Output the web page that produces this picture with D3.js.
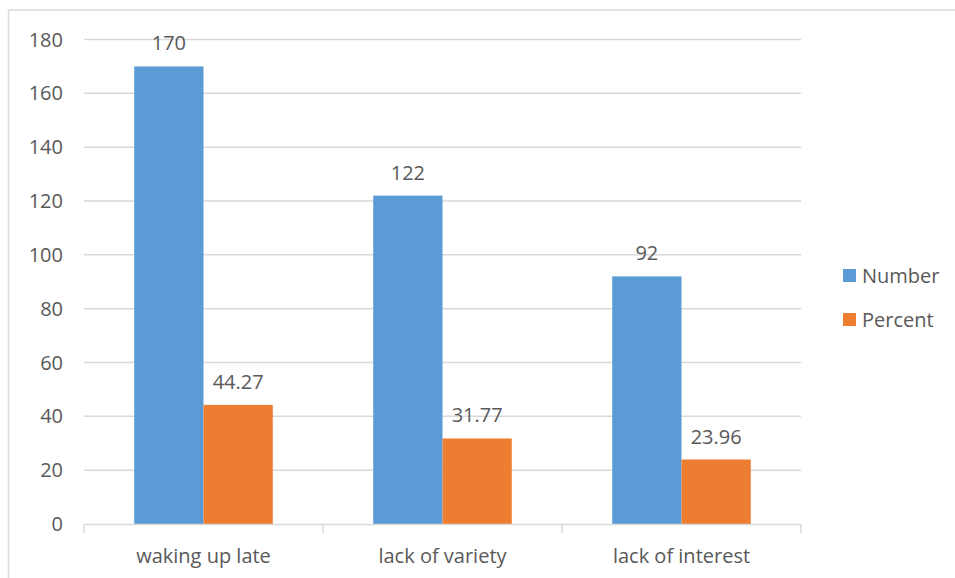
<!DOCTYPE html>
<html>
<head>
<meta charset="utf-8">
<script src="https://cdn.jsdelivr.net/npm/d3@7"></script>
<style>
  html, body { margin: 0; padding: 0; background: #fff; }
  svg { display: block; }
  text { font-family: "Open Sans", sans-serif; fill: #595959; }
</style>
</head>
<body>
<svg id="chart" width="955" height="578"></svg>
<script>
const categories = ["waking up late", "lack of variety", "lack of interest"];
const seriesNames = ["Number", "Percent"];
const numberValues = [170, 122, 92];
const percentValues = [44.27, 31.77, 23.96];
const yTicks = [0, 20, 40, 60, 80, 100, 120, 140, 160, 180];
const colors = ["#5B9BD5", "#ED7D31"];

const seriesValues = [numberValues, percentValues];
const rows = categories.map((c, i) => ({
  category: c,
  values: seriesNames.map((s, j) => ({ series: s, value: seriesValues[j][i], color: colors[j] }))
}));

const svg = d3.select("#chart");
const W = 955, H = 578;
const plot = { left: 84, right: 801, top: 39.5, bottom: 524 };

// outer frame (top and left edges visible)
svg.append("line").attr("x1", 8.5).attr("x2", W).attr("y1", 10).attr("y2", 10)
  .attr("stroke", "#d9d9d9").attr("stroke-width", 1.5);
svg.append("line").attr("x1", 8.5).attr("x2", 8.5).attr("y1", 10).attr("y2", H)
  .attr("stroke", "#d9d9d9").attr("stroke-width", 1.5);

const y = d3.scaleLinear().domain([0, 180]).range([plot.bottom, plot.top]);
const x0 = d3.scaleBand().domain(categories).range([plot.left, plot.right]).paddingInner(0).paddingOuter(0);
const bw = x0.bandwidth();
const barW = bw / 3.45;
const x1 = d3.scaleBand().domain(seriesNames).range([bw / 2 - barW, bw / 2 + barW]).padding(0);

// gridlines
svg.append("g").selectAll("line").data(yTicks.filter(t => t > 0)).join("line")
  .attr("x1", plot.left).attr("x2", plot.right)
  .attr("y1", d => y(d)).attr("y2", d => y(d))
  .attr("stroke", "#d9d9d9").attr("stroke-width", 1.5);

// y tick labels
svg.append("g").selectAll("text").data(yTicks).join("text")
  .attr("x", 63).attr("y", d => y(d)).attr("dy", "0.35em")
  .attr("text-anchor", "end").attr("font-size", 20).text(d => d);

// bars
const groups = svg.append("g").selectAll("g").data(rows).join("g")
  .attr("transform", d => `translate(${x0(d.category)},0)`);
groups.selectAll("rect").data(d => d.values).join("rect")
  .attr("x", d => x1(d.series)).attr("width", x1.bandwidth())
  .attr("y", d => y(d.value)).attr("height", d => y(0) - y(d.value))
  .attr("fill", d => d.color);
groups.selectAll("text").data(d => d.values).join("text")
  .attr("x", d => x1(d.series) + x1.bandwidth() / 2)
  .attr("y", d => y(d.value) - 16)
  .attr("text-anchor", "middle").attr("font-size", 20)
  .text(d => d.value);

// x axis
const xAxis = svg.append("g");
xAxis.append("line").attr("x1", plot.left).attr("x2", plot.right)
  .attr("y1", plot.bottom + 0.5).attr("y2", plot.bottom + 0.5)
  .attr("stroke", "#d9d9d9").attr("stroke-width", 1.5);
const tickXs = categories.map(c => x0(c)).concat([x0(categories[categories.length - 1]) + bw]);
xAxis.selectAll("line.tick").data(tickXs).join("line").attr("class", "tick")
  .attr("x1", d => d).attr("x2", d => d)
  .attr("y1", plot.bottom + 0.5).attr("y2", plot.bottom + 9)
  .attr("stroke", "#d9d9d9").attr("stroke-width", 1.5);
xAxis.selectAll("text").data(categories).join("text")
  .attr("x", d => x0(d) + bw / 2).attr("y", 563)
  .attr("text-anchor", "middle").attr("font-size", 20).text(d => d);

// legend
const legend = svg.append("g").selectAll("g").data(seriesNames).join("g")
  .attr("transform", (d, i) => `translate(843,${269 + i * 44})`);
legend.append("rect").attr("width", 13).attr("height", 13).attr("fill", (d, i) => colors[i]);
legend.append("text").attr("x", 19).attr("y", 14).attr("font-size", 20).text(d => d);
</script>
</body>
</html>
